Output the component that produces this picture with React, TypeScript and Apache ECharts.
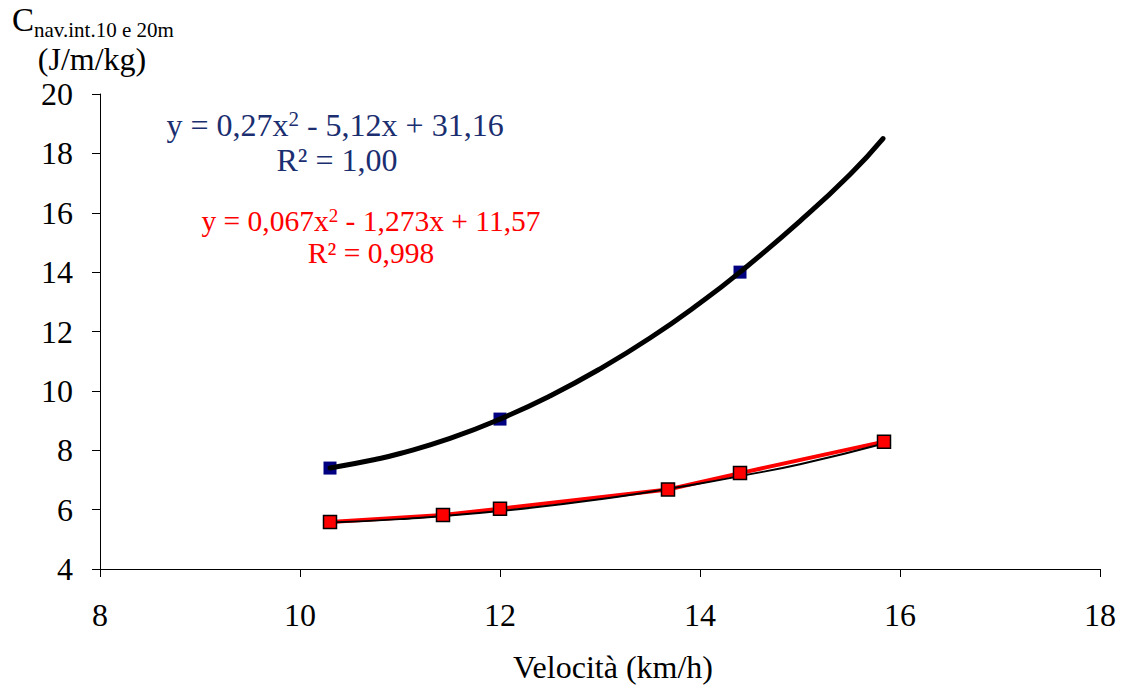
import React, { useEffect, useRef } from "react";
import * as echarts from "echarts";

// Measured points (velocity km/h, cost J/m/kg)
const bluePoints: number[][] = [
  [10.3, 7.4],
  [12.0, 9.05],
  [14.4, 14.0],
];
// Black quadratic trend through blue points
const blueTrend: number[][] = [
  [10.3, 7.4],
  [10.75, 7.69],
  [11.0, 7.89],
  [11.5, 8.4],
  [12.0, 9.05],
  [12.5, 9.83],
  [13.0, 10.74],
  [13.5, 11.78],
  [14.0, 12.96],
  [14.4, 14.0],
  [15.0, 15.72],
  [15.5, 17.29],
  [15.83, 18.5],
];
const redPoints: number[][] = [
  [10.3, 5.58],
  [11.43, 5.82],
  [12.0, 6.03],
  [13.68, 6.68],
  [14.4, 7.23],
  [15.84, 8.29],
];
// Black quadratic trend through red points
const redTrend: number[][] = [
  [10.3, 5.57],
  [11.0, 5.68],
  [12.0, 5.95],
  [13.0, 6.35],
  [14.0, 6.88],
  [14.4, 7.13],
  [15.0, 7.53],
  [15.84, 8.23],
];
const xTicks = { min: 8, max: 18, interval: 2 };
const yTicks = { min: 4, max: 20, interval: 2 };

const FONT = "Liberation Serif";
const NAVY = "#000080";
const NAVY_TEXT = "#1a2e70";
const RED = "#ff0000";
const FS = 32;
const FS_RED = 29.5;

export default function App() {
  const ref = useRef<HTMLDivElement>(null);
  useEffect(() => {
    if (!ref.current) return;
    const chart = echarts.init(ref.current, undefined, { renderer: "svg" });
    chart.setOption({
      animation: false,
      backgroundColor: "#ffffff",
      textStyle: { fontFamily: FONT },
      grid: { left: 100, right: 21, top: 94, bottom: 118, containLabel: false },
      xAxis: {
        type: "value",
        min: xTicks.min,
        max: xTicks.max,
        interval: xTicks.interval,
        axisLine: { show: true, onZero: false, lineStyle: { color: "#000", width: 1 } },
        axisTick: { show: true, inside: false, length: 8, lineStyle: { color: "#000" } },
        splitLine: { show: false },
        axisLabel: { color: "#000", fontFamily: FONT, fontSize: FS, margin: 30 },
      },
      yAxis: {
        type: "value",
        min: yTicks.min,
        max: yTicks.max,
        interval: yTicks.interval,
        axisLine: { show: true, onZero: false, lineStyle: { color: "#000", width: 1 } },
        axisTick: { show: true, inside: false, length: 8, lineStyle: { color: "#000" } },
        splitLine: { show: false },
        axisLabel: { color: "#000", fontFamily: FONT, fontSize: FS, margin: 27 },
      },
      series: [
        {
          type: "scatter",
          data: bluePoints,
          symbol: "rect",
          symbolSize: 13,
          itemStyle: { color: NAVY, opacity: 1 },
          z: 2,
        },
        {
          type: "line",
          data: blueTrend,
          smooth: true,
          showSymbol: false,
          lineStyle: { color: "#000", width: 5, cap: "round" },
          z: 3,
        },
        {
          type: "line",
          data: redPoints,
          showSymbol: false,
          lineStyle: { color: RED, width: 4 },
          z: 4,
        },
        {
          type: "line",
          data: redTrend,
          smooth: true,
          showSymbol: false,
          lineStyle: { color: "#000", width: 2 },
          z: 5,
        },
        {
          type: "scatter",
          data: redPoints,
          symbol: "rect",
          symbolSize: 13,
          itemStyle: { color: RED, borderColor: "#000", borderWidth: 1.5, opacity: 1 },
          z: 6,
        },
      ],
      graphic: [
        {
          type: "text",
          left: 12,
          top: 3,
          style: {
            text: "{c|C}{s|nav.int.10 e 20m}",
            rich: {
              c: { fontFamily: FONT, fontSize: 33, fill: "#000", verticalAlign: "bottom" },
              s: { fontFamily: FONT, fontSize: 21, fill: "#000", verticalAlign: "bottom", padding: [0, 0, -4, 0] },
            },
          },
        },
        {
          type: "text",
          x: 92,
          y: 59,
          style: {
            text: "(J/m/kg)",
            fontFamily: FONT,
            fontSize: FS,
            fill: "#000",
            align: "center",
            verticalAlign: "middle",
          },
        },
        {
          type: "text",
          x: 613,
          y: 667,
          style: {
            text: "Velocità (km/h)",
            fontFamily: FONT,
            fontSize: FS,
            fill: "#000",
            align: "center",
            verticalAlign: "middle",
          },
        },
        {
          type: "text",
          x: 335,
          y: 125,
          style: {
            text: "y = 0,27x{sup|2} - 5,12x + 31,16",
            fontFamily: FONT,
            fontSize: FS,
            fill: NAVY_TEXT,
            align: "center",
            verticalAlign: "middle",
            rich: {
              sup: { fontFamily: FONT, fontSize: 21, fill: NAVY_TEXT, padding: [0, 0, 13, 0] },
            },
          },
        },
        {
          type: "text",
          x: 337,
          y: 160,
          style: {
            text: "R² = 1,00",
            fontFamily: FONT,
            fontSize: FS,
            fill: NAVY_TEXT,
            align: "center",
            verticalAlign: "middle",
          },
        },
        {
          type: "text",
          x: 371,
          y: 221,
          style: {
            text: "y = 0,067x{sup|2} - 1,273x + 11,57",
            fontFamily: FONT,
            fontSize: FS_RED,
            fill: RED,
            align: "center",
            verticalAlign: "middle",
            rich: {
              sup: { fontFamily: FONT, fontSize: 19, fill: RED, padding: [0, 0, 12, 0] },
            },
          },
        },
        {
          type: "text",
          x: 371,
          y: 253,
          style: {
            text: "R² = 0,998",
            fontFamily: FONT,
            fontSize: FS_RED,
            fill: RED,
            align: "center",
            verticalAlign: "middle",
          },
        },
      ],
    });
    return () => chart.dispose();
  }, []);
  return <div ref={ref} style={{ width: 1121, height: 687, position: "absolute", left: 0, top: 0 }} />;
}
